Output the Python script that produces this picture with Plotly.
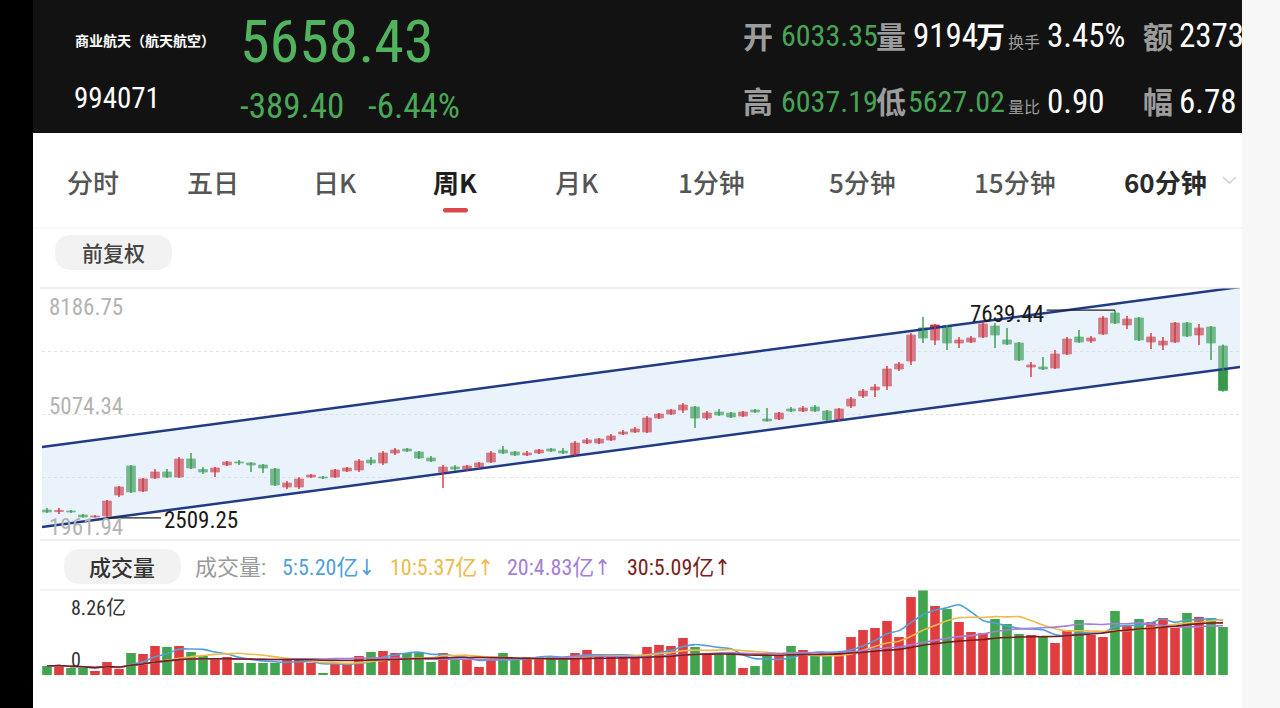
import plotly.graph_objects as go
import pandas as pd

W, H = 1280, 708

# ---------------- data ----------------
opens = [2703, 2666, 2679, 2580, 2530, 2555, 3073, 3790, 3172, 3494,
         3642, 3518, 3963, 3703, 3642, 3815, 3889, 3864, 3815, 3716,
         3271, 3271, 3518, 3518, 3518, 3666, 3691, 3938, 3864, 4111,
         4210, 4136, 3988, 3642, 3765, 3716, 3765, 3889, 4185, 4136,
         4062, 4111, 4210, 4160, 4062, 4358, 4358, 4432, 4580, 4630,
         4630, 4975, 5074, 5173, 5247, 4975, 5124, 5099, 5025, 5173,
         4951, 4951, 5198, 5148, 5247, 5148, 4926, 5272, 5519, 5667,
         5766, 6186, 6383, 7198, 6902, 7248, 6828, 6852, 6976, 7248,
         6902, 6828, 6235, 6235, 6210, 6556, 6976, 6877, 7050, 7569,
         7273, 7446, 6852, 6778, 6852, 7322, 7026, 7223, 6754]
highs = [2752, 2752, 2703, 2604, 2580, 2950, 3296, 3814, 3494, 3716,
         3716, 4012, 4111, 3765, 3765, 3914, 3938, 3880, 3839, 3740,
         3420, 3518, 3593, 3543, 3716, 3765, 3963, 4012, 4160, 4234,
         4234, 4160, 4037, 3815, 3815, 3815, 3889, 4160, 4284, 4160,
         4160, 4210, 4234, 4234, 4407, 4481, 4481, 4580, 4679, 4753,
         5025, 5099, 5198, 5346, 5272, 5148, 5198, 5124, 5148, 5198,
         5222, 5124, 5247, 5272, 5296, 5173, 5222, 5494, 5692, 5815,
         6260, 6359, 7075, 7470, 7297, 7273, 6976, 7001, 7347, 7322,
         7198, 6852, 6359, 6482, 6655, 6976, 7149, 7001, 7495, 7639.44,
         7495, 7470, 7075, 6976, 7347, 7347, 7297, 7248, 6790]
lows = [2629, 2604, 2629, 2517, 2515, 2509.25, 3024, 3123, 3148, 3469,
        3494, 3494, 3716, 3593, 3518, 3790, 3815, 3642, 3617, 3296,
        3222, 3222, 3494, 3469, 3494, 3642, 3642, 3815, 3815, 4062,
        4136, 3963, 3889, 3246, 3666, 3666, 3716, 3864, 4086, 4037,
        4037, 4086, 4136, 4086, 4037, 4333, 4333, 4407, 4555, 4605,
        4605, 4951, 5050, 5099, 4728, 4926, 5025, 4975, 5000, 5099,
        4890, 4926, 5124, 5124, 5124, 4901, 4901, 5222, 5470, 5494,
        5667, 6136, 6284, 6828, 6778, 6655, 6705, 6828, 6951, 6705,
        6778, 6383, 5988, 6161, 6186, 6532, 6828, 6828, 7026, 7297,
        7174, 6877, 6680, 6655, 6828, 6976, 6778, 6408, 5627.02]
closes = [2654, 2691, 2654, 2530, 2555, 2925, 3271, 3148, 3469, 3642,
          3518, 3963, 3740, 3642, 3740, 3889, 3864, 3815, 3740, 3321,
          3370, 3469, 3568, 3494, 3691, 3740, 3914, 3864, 4111, 4185,
          4160, 3988, 3914, 3765, 3716, 3790, 3864, 4111, 4111, 4062,
          4111, 4185, 4160, 4111, 4358, 4432, 4456, 4531, 4630, 4704,
          4975, 5074, 5173, 5297, 4975, 5099, 5050, 5000, 5124, 5124,
          4901, 5099, 5148, 5222, 5148, 4926, 5198, 5445, 5642, 5741,
          6186, 6309, 7025, 6951, 7273, 6828, 6902, 6951, 7297, 7026,
          6803, 6408, 6285, 6186, 6556, 6927, 6852, 6951, 7446, 7322,
          7421, 6902, 6976, 6877, 7322, 7001, 7198, 6828, 5658.43]
# weekly volume, 亿
volumes = [0.87, 0.97, 0.68, 0.68, 0.39, 1.26, 0.58, 2.14, 2.04, 2.82,
           2.72, 2.82, 2.24, 1.85, 1.55, 1.75, 1.17, 1.17, 1.17, 1.17,
           1.46, 1.46, 1.17, 0.19, 1.17, 1.17, 1.85, 2.24, 2.33, 2.14,
           2.14, 2.24, 1.26, 2.14, 1.46, 1.46, 0.78, 1.46, 2.14, 1.65,
           1.75, 1.75, 1.75, 1.75, 2.14, 2.43, 1.75, 1.75, 1.75, 1.75,
           2.72, 2.92, 2.82, 3.60, 2.72, 2.14, 2.14, 2.14, 0.68, 0.87,
           1.94, 1.94, 2.82, 2.43, 1.94, 1.94, 2.14, 3.69, 4.37, 4.57,
           5.25, 3.69, 7.58, 8.26, 6.71, 6.41, 5.15, 4.18, 4.08, 5.44,
           4.96, 3.98, 3.89, 3.69, 3.11, 4.37, 5.35, 3.89, 3.69, 6.22,
           4.86, 5.44, 5.15, 5.54, 4.57, 6.03, 5.64, 5.54, 4.66]

price_axis = [1961.94, 8186.75]
price_labels = ["8186.75", "5074.34", "1961.94"]
vol_max = 8.26
ma_windows = [5, 10, 20, 30]
ma_colors = ["#4f9fd9", "#edbb4c", "#a47ed8", "#7a1d1d"]
ma_texts = ["5:5.20亿↓", "10:5.37亿↑", "20:4.83亿↑", "30:5.09亿↑"]

channel_x = [-0.42, 99.42]
channel_upper = [4259, 8212]
channel_lower = [2283, 6237]

tabs = ["分时", "五日", "日K", "周K", "月K", "1分钟", "5分钟", "15分钟", "60分钟"]
tab_x = [93, 213, 335, 455, 577, 711, 862, 1015, 1165]

RED = "#d6343a"
GREEN = "#379a48"
NUM = "Liberation Sans Narrow, Roboto Condensed, DejaVu Sans Condensed, Noto Sans CJK SC"
CJK = "Noto Sans CJK SC"

idx = list(range(len(closes)))
X0, X1 = -0.417, 99.417


def px(x):
    return x / W


def py(y):
    return 1 - y / H


fig = go.Figure()

# channel fill + lines
fig.add_trace(go.Scatter(x=channel_x, y=channel_lower, mode="lines",
                         line=dict(color="#213a86", width=2.5),
                         xaxis="x", yaxis="y", hoverinfo="skip"))
fig.add_trace(go.Scatter(x=channel_x, y=channel_upper, mode="lines",
                         line=dict(color="#213a86", width=2.5),
                         fill="tonexty", fillcolor="rgba(205,224,246,0.42)",
                         xaxis="x", yaxis="y", hoverinfo="skip"))

# candles: wicks + bodies
up = [c >= o for o, c in zip(opens, closes)]
for is_up, col in [(True, RED), (False, GREEN)]:
    wx, wy = [], []
    for i in idx:
        if up[i] == is_up:
            wx += [i, i, None]
            wy += [lows[i], highs[i], None]
    fig.add_trace(go.Scatter(x=wx, y=wy, mode="lines", line=dict(color=col, width=1.4),
                             xaxis="x", yaxis="y", hoverinfo="skip"))
    bx = [i for i in idx if up[i] == is_up]
    base = [min(opens[i], closes[i]) for i in bx]
    size = [abs(closes[i] - opens[i]) for i in bx]
    fig.add_trace(go.Bar(x=bx, y=size, base=base, width=0.74,
                         marker=dict(color=col, line=dict(color=col, width=0.8)),
                         xaxis="x", yaxis="y"))

bar_colors = ["#e03d40" if u else "#40a54e" for u in up]
fig.add_trace(go.Bar(x=idx, y=volumes, marker=dict(color=bar_colors, line=dict(width=0)),
                     width=0.8, xaxis="x2", yaxis="y2"))

vs = pd.Series(volumes)
for n, col in zip(ma_windows, ma_colors):
    fig.add_trace(go.Scatter(x=idx, y=vs.rolling(n, min_periods=1).mean(), mode="lines",
                             line=dict(color=col, width=1.6, shape="spline", smoothing=0.8),
                             xaxis="x2", yaxis="y2", hoverinfo="skip"))

shapes = []


def rect(x0, y0, x1, y1, color, layer="below"):
    shapes.append(dict(type="rect", xref="paper", yref="paper", x0=px(x0), x1=px(x1),
                       y0=py(y1), y1=py(y0), fillcolor=color, line=dict(width=0), layer=layer))


def hline(x0, x1, y, color, width=1, dash=None):
    shapes.append(dict(type="line", xref="paper", yref="paper", x0=px(x0), x1=px(x1),
                       y0=py(y), y1=py(y), line=dict(color=color, width=width, dash=dash)))


def rrect(x0, y0, x1, y1, r, color):
    pts = [("M", x0 + r, y0), ("L", x1 - r, y0), ("Q", x1, y0, x1, y0 + r), ("L", x1, y1 - r),
           ("Q", x1, y1, x1 - r, y1), ("L", x0 + r, y1), ("Q", x0, y1, x0, y1 - r),
           ("L", x0, y0 + r), ("Q", x0, y0, x0 + r, y0)]
    p = ""
    for seg in pts:
        c = seg[0]
        coords = seg[1:]
        s = []
        for i in range(0, len(coords), 2):
            s.append(f"{px(coords[i]):.5f},{py(coords[i+1]):.5f}")
        p += c + " ".join(s) + " "
    p += "Z"
    shapes.append(dict(type="path", xref="paper", yref="paper", path=p,
                       fillcolor=color, line=dict(width=0), layer="below"))


rect(0, 0, 33, 708, "#000000")
rect(33, 0, 1242, 133, "#121212")
rect(1242, 0, 1280, 708, "#f7f7f7")
hline(33, 1242, 228, "#f2f2f2", 1)
rrect(443, 208, 468, 212.5, 2, "#d9484a")
rrect(55, 235, 172, 270, 17, "#f2f2f3")
hline(40, 1240, 288, "#dcdcdc", 1)
hline(40, 1240, 540, "#e4e4e4", 1)
rrect(64, 549, 181, 584, 17, "#f2f2f3")
hline(40, 1240, 590, "#e6e6e6", 1)
# chevron
shapes.append(dict(type="path", xref="paper", yref="paper",
                   path=f"M{px(1223)},{py(177)} L{px(1229.5)},{py(183)} L{px(1236)},{py(177)}",
                   line=dict(color="#cfcfcf", width=1.5)))

# extreme value leader lines (data coords)
hi_i = highs.index(max(highs))
lo_i = lows.index(min(lows))
shapes.append(dict(type="line", xref="x", yref="y", x0=hi_i, x1=83.3,
                   y0=highs[hi_i], y1=highs[hi_i], line=dict(color="#222", width=1.2)))
shapes.append(dict(type="line", xref="x", yref="y", x0=lo_i, x1=9.5,
                   y0=lows[lo_i], y1=lows[lo_i], line=dict(color="#222", width=1.2)))

ann = []


def txt(x, y, s, size, color, anchor="left", family=NUM, weight="normal", yanchor="middle"):
    ann.append(dict(x=px(x), y=py(y), xref="paper", yref="paper", text=s, showarrow=False,
                    xanchor=anchor, yanchor=yanchor,
                    font=dict(size=size, color=color, family=family, weight=weight)))


# header
txt(73, 40, "商业航天（航天航空）", 14, "#ffffff", family=CJK, weight="bold")
txt(72, 98, "994071", 29, "#ffffff")
txt(238, 42, "5658.43", 60, "#52b35e")
txt(238, 106, "-389.40", 35, "#4aa957")
txt(366, 106, "-6.44%", 35, "#4aa957")

GR = "#9c9c9c"
HG = "#46a555"
txt(741, 35, "开", 30, GR, family=CJK, weight="bold")
txt(779, 36, "6033.35", 30, HG)
txt(874, 35, "量", 30, GR, family=CJK, weight="bold")
txt(911, 36, "9194", 33, "#ffffff")
txt(974, 35, "万", 29, "#ffffff", family=CJK, weight="bold")
txt(1006, 41, "换手", 16, GR, family=CJK)
txt(1045, 36, "3.45%", 33, "#ffffff")
txt(1141, 35, "额", 30, GR, family=CJK, weight="bold")
txt(1177, 36, "2373", 33, "#ffffff")

txt(741, 100, "高", 30, GR, family=CJK, weight="bold")
txt(779, 101, "6037.19", 30, HG)
txt(874, 100, "低", 30, GR, family=CJK, weight="bold")
txt(906, 101, "5627.02", 30, HG)
txt(1006, 106, "量比", 16, GR, family=CJK)
txt(1045, 101, "0.90", 33, "#ffffff")
txt(1141, 100, "幅", 30, GR, family=CJK, weight="bold")
txt(1177, 101, "6.78", 33, "#ffffff")

# tabs
for t, x in zip(tabs, tab_x):
    active = t == "周K"
    col = "#1e1e1e" if active else ("#2a2a2a" if t == "60分钟" else "#555555")
    txt(x, 181, t, 26, col, anchor="center", family=CJK,
        weight="bold" if (active or t == "60分钟") else 500)

txt(113, 252, "前复权", 21, "#444444", anchor="center", family=CJK, weight=500)

# price axis labels
for s, v, ys in zip(price_labels, [price_axis[1], sum(price_axis) / 2, price_axis[0]],
                    [-19, 8, 13]):
    ann.append(dict(x=px(47), y=v, xref="paper", yref="y", text=s, showarrow=False,
                    xanchor="left", yanchor="middle", yshift=ys,
                    font=dict(size=23, color="#b3b3b3", family=NUM)))

# extreme labels
ann.append(dict(x=83.3, y=highs[hi_i], xref="x", yref="y", text=f"{highs[hi_i]:.2f}",
                showarrow=False, xanchor="right", yanchor="middle", yshift=-4, xshift=-1,
                font=dict(size=23, color="#1a1a1a", family=NUM)))
ann.append(dict(x=9.5, y=lows[lo_i], xref="x", yref="y", text=f"{lows[lo_i]:.2f}",
                showarrow=False, xanchor="left", yanchor="middle", yshift=-3, xshift=1,
                font=dict(size=23, color="#1a1a1a", family=NUM)))

# volume header
txt(122, 566, "成交量", 22, "#333333", anchor="center", family=CJK, weight=500)
txt(193, 567, "成交量:", 22, "#9a9a9a", family=NUM)
for s, x, c in zip(ma_texts, [280, 388, 505, 625], ma_colors):
    txt(x, 567, s, 22, c, family=NUM)

txt(69, 608, f"{vol_max}亿", 20, "#333333", family=NUM)
txt(69, 660, "0", 20, "#333333", family=NUM)

fig.update_layout(
    width=W, height=H, margin=dict(l=0, r=0, t=0, b=0),
    paper_bgcolor="#ffffff", plot_bgcolor="rgba(0,0,0,0)",
    showlegend=False, shapes=shapes, annotations=ann,
    barmode="overlay",
    xaxis=dict(domain=[px(42), px(1240)], range=[X0, X1], visible=False, anchor="y"),
    yaxis=dict(domain=[py(540), py(288)], range=price_axis, anchor="x",
               tickvals=[price_axis[0] + (price_axis[1] - price_axis[0]) * k / 4 for k in (1, 2, 3)],
               showticklabels=False, ticks="", showgrid=True, gridcolor="#e2e2e2",
               griddash="dot", zeroline=False, showline=False),
    xaxis2=dict(domain=[px(42), px(1240)], range=[X0, X1], visible=False, anchor="y2"),
    yaxis2=dict(domain=[py(675), py(590)], range=[0, vol_max], visible=False, anchor="x2"),
)

fig.write_html("out.html")
